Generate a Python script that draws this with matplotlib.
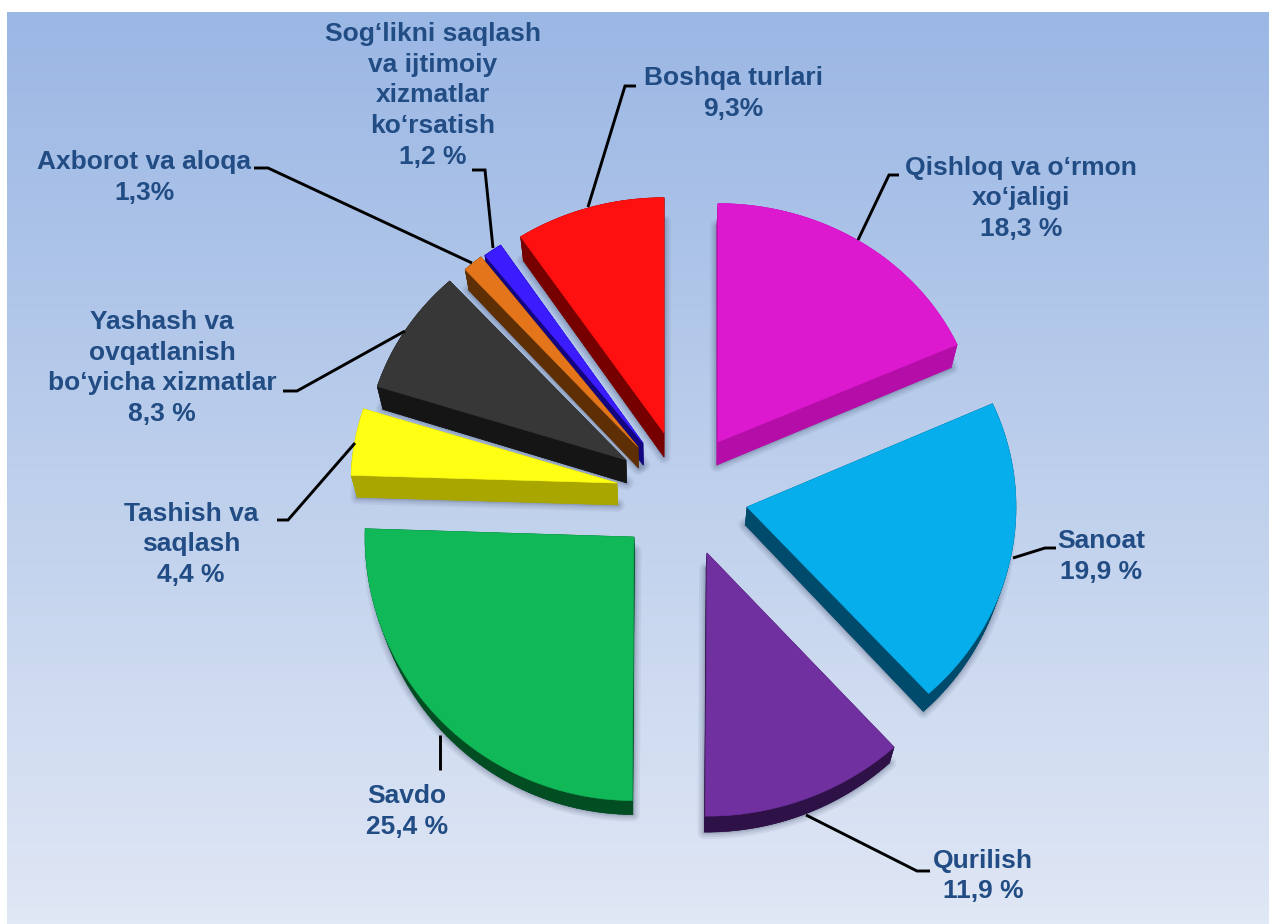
import numpy as np
import matplotlib
matplotlib.use("Agg")
import matplotlib.pyplot as plt
from matplotlib.colors import LinearSegmentedColormap
from matplotlib.patches import Polygon

# --- data ---
categories = ["Qishloq va o‘rmon\nxo‘jaligi", "Sanoat", "Qurilish", "Savdo", "Tashish va\nsaqlash",
              "Yashash va\novqatlanish\nbo‘yicha xizmatlar", "Axborot va aloqa",
              "Sog‘likni saqlash\nva ijtimoiy\nxizmatlar\nko‘rsatish", "Boshqa turlari"]
values = [18.3, 19.9, 11.9, 25.4, 4.4, 8.3, 1.3, 1.2, 9.3]
value_labels = ["18,3 %", "19,9 %", "11,9 %", "25,4 %", "4,4 %", "8,3 %", "1,3%", "1,2 %", "9,3%"]

# --- style / layout (pixel space of the picture) ---
top_colors = ["#DC19CF", "#06AEEC", "#7030A0", "#10B858", "#FFFF14", "#373737", "#E4751A", "#3B1CFF", "#FF1010"]
side_colors = ["#B50EA8", "#004A6B", "#2E1247", "#024D22", "#A9A600", "#151515", "#5E2F05", "#12057F", "#760000"]
apex_x = [718, 747, 707, 634, 617, 626, 638, 643, 664]
apex_y = [442, 507, 553, 537, 483, 460, 447, 443, 433]
radius = [262, 269, 277, 269, 266, 261, 256, 258, 260]
squash = [0.91, 0.94, 0.95, 0.98, 0.92, 0.93, 0.94, 0.92, 0.905]
depth = [23, 18, 16, 14, 22, 23, 21, 22, 24]
draw_order = [8, 7, 6, 5, 4, 0, 1, 2, 3]
label_x = [1021, 1101, 983, 407, 191, 162, 144, 433, 733]
label_y = [198.5, 556.5, 876, 811.5, 544.5, 368, 177.5, 95.5, 93.5]
leaders = [
    [(899, 175), (889, 175), (858, 240)],
    [(1056, 548), (1045, 548), (1013, 558)],
    [(930, 871), (917, 871), (806, 815)],
    [(440, 770), (440, 735)],
    [(277, 520), (288, 520), (355, 443)],
    [(283, 391), (297, 391), (405, 331)],
    [(254, 168), (268, 168), (472, 263)],
    [(472, 170), (485, 170), (493, 248)],
    [(636, 86), (625, 86), (588, 207)],
]
text_color = "#214C84"
vanish_x = 660
shrink = 0.02

W, H = 1269, 924
fig = plt.figure(figsize=(W / 100, H / 100), dpi=100, facecolor="white")
ax = fig.add_axes([0, 0, 1, 1])
ax.set_xlim(0, W)
ax.set_ylim(H, 0)
ax.axis("off")

cmap = LinearSegmentedColormap.from_list("bg", ["#9BB7E4", "#BDCFEC", "#E0E7F5"])
grad = np.linspace(0, 1, 256).reshape(-1, 1)
ax.imshow(grad, cmap=cmap, extent=(7, W, H, 12), aspect="auto", zorder=0, interpolation="bilinear")
ax.set_xlim(0, W)
ax.set_ylim(H, 0)

edges = np.concatenate([[0], np.cumsum(values)]) / sum(values) * 360.0
starts = 90 - edges[:-1]
ends = 90 - edges[1:]

z = 2
for i in draw_order:
    th = np.radians(np.linspace(starts[i], ends[i], 60))
    xs = np.concatenate([[apex_x[i]], apex_x[i] + radius[i] * np.cos(th)])
    ys = np.concatenate([[apex_y[i]], apex_y[i] - radius[i] * squash[i] * np.sin(th)])
    bx = xs + (vanish_x - xs) * shrink
    by = ys + depth[i]
    # soft shadow around the lower face
    shadow = np.column_stack([bx, by])
    for lw, a in [(10, 0.07), (7, 0.09), (4, 0.11), (2, 0.12)]:
        ax.add_patch(Polygon(shadow, closed=True, facecolor="#33415F", edgecolor="#33415F",
                             lw=lw, alpha=a, joinstyle="round", zorder=z))
    # side wall: one quad per outline segment
    n = len(xs)
    for k in range(n):
        m = (k + 1) % n
        quad = [(xs[k], ys[k]), (xs[m], ys[m]), (bx[m], by[m]), (bx[k], by[k])]
        ax.add_patch(Polygon(quad, closed=True, facecolor=side_colors[i], edgecolor=side_colors[i],
                             lw=0.4, zorder=z + 1))
    ax.add_patch(Polygon(shadow, closed=True, facecolor=side_colors[i], edgecolor="none", zorder=z + 1))
    ax.add_patch(Polygon(np.column_stack([xs, ys]), closed=True, facecolor=top_colors[i],
                         edgecolor=top_colors[i], lw=0.4, zorder=z + 2))
    z += 3

for pts in leaders:
    p = np.array(pts)
    ax.plot(p[:, 0], p[:, 1], color="black", lw=2.1, solid_joinstyle="miter", solid_capstyle="butt", zorder=z)

for name, val, x, y in zip(categories, value_labels, label_x, label_y):
    ax.text(x, y, name + "\n" + val, ha="center", va="center", multialignment="center",
            family=["Liberation Sans", "DejaVu Sans"], weight="bold", fontsize=19,
            color=text_color, linespacing=1.345, zorder=z + 1)

fig.savefig("out.png", dpi=100, facecolor="white")
